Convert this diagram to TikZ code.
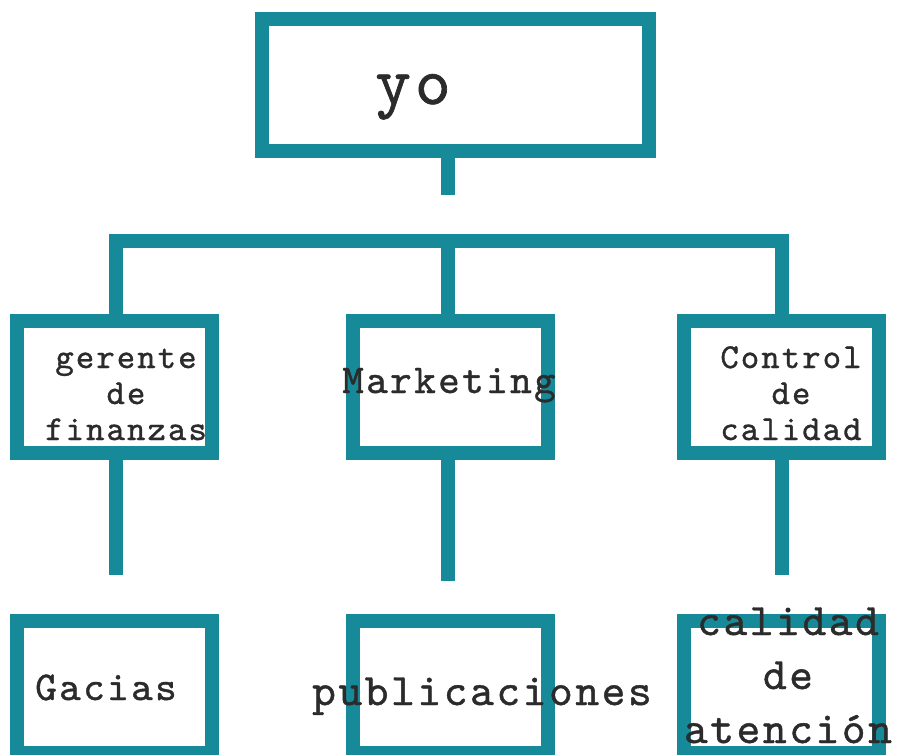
\documentclass[tikz,border=0pt]{standalone}
\usepackage{fontspec}
\newfontfamily\tw{lmmono10-regular}[Extension=.otf,LetterSpace=6,FakeBold=1]
\definecolor{teal1}{HTML}{178A99}
\definecolor{ink}{HTML}{2B2B2B}
\begin{document}
\begin{tikzpicture}[x=1pt,y=-1pt,
  boxnode/.style={draw=teal1,line width=14pt,inner sep=0pt,minimum width=195pt,minimum height=132pt},
  conn/.style={draw=teal1,line width=14pt,line cap=butt,line join=miter},
  lbl/.style={text=ink,font=\tw,inner sep=0pt,anchor=base,align=center}]
\useasboundingbox (0,0) rectangle (898,755);
\fill[white] (0,0) rectangle (898,755);
% boxes
\node[boxnode,minimum width=387pt] (yo) at (455.5,85) {};
\node[boxnode] (fin) at (114.5,387) {};
\node[boxnode] (mkt) at (450.5,387) {};
\node[boxnode] (ctl) at (781.5,387) {};
\node[boxnode] (gac) at (114.5,687) {};
\node[boxnode] (pub) at (450.5,687) {};
\node[boxnode] (cal) at (781.5,687) {};
% connector coordinates
\coordinate (s0) at (448,195);
\coordinate (b1) at (116,240.5);
\coordinate (b2) at (448,240.5);
\coordinate (b3) at (782,240.5);
\coordinate (e1) at (116,575);
\coordinate (e2) at (448,581);
\coordinate (e3) at (782,575);
% connectors
\draw[conn] (s0 |- yo.south) -- (s0);
\draw[conn] (b1 |- fin.north) -- (b1) -- (b3) -- (b3 |- ctl.north);
\draw[conn] (b2) -- (b2 |- mkt.north);
\draw[conn] (e1 |- fin.south) -- (e1);
\draw[conn] (e2 |- mkt.south) -- (e2);
\draw[conn] (e3 |- ctl.south) -- (e3);
% labels
\node[lbl,font=\tw\fontsize{68}{70}\selectfont] (tyo) at (413,104) {yo};
\node[lbl,font=\tw\fontsize{35}{36}\selectfont] (tfin) at (126,440) {gerente\\de\\finanzas};
\node[lbl,font=\tw\fontsize{41}{44}\selectfont] (tmkt) at (449,393) {Marketing};
\node[lbl,font=\tw\fontsize{35}{36}\selectfont] (tctl) at (791,440) {Control\\de\\calidad};
\node[lbl,font=\tw\fontsize{41}{42}\selectfont] (tgac) at (106,700) {Gacias};
\node[lbl,font=\tw\fontsize{45}{46}\selectfont] (tpub) at (482,705) {publicaciones};
\node[lbl,font=\tw\fontsize{45}{54}\selectfont] (tcal) at (788,743) {calidad\\de\\atención};
\end{tikzpicture}
\end{document}
